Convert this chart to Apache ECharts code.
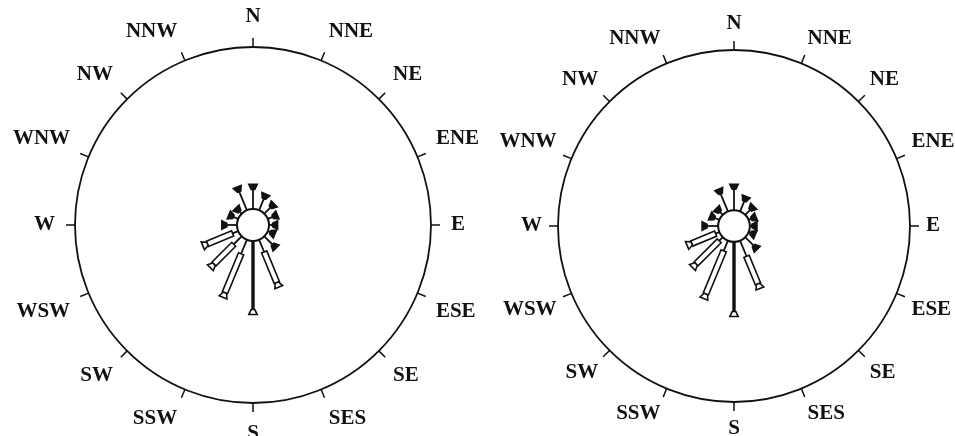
<!DOCTYPE html>
<html>
<head>
<meta charset="utf-8">
<title>wind rose</title>
<script src="https://cdn.jsdelivr.net/npm/echarts@6/dist/echarts.min.js"></script>
<style>
	html, body { margin: 0; padding: 0; background: #fff; }
	#main { width: 955px; height: 436px; }
</style>
</head>
<body>
<div id="main"></div>
<script>
	// 16 directions, clockwise from north (label "SES" kept as printed)
	var dirs = ['N','NNE','NE','ENE','E','ESE','SE','SES','S','SSW','SW','WSW','W','WNW','NW','NNW'];

	// calm circle radius (same axis units as the spokes)
	var calm = 9;

	// left rose: thin line / solid line / hollow bar lengths per direction
	var thinL   = [11, 7, 5, 3, 2, 1.5, 6.5, 7.4, 0, 8.5, 6.3, 3.4, 5.7, 2.9, 1.7, 11.3];
	var solidL  = [0, 0, 0, 0, 0, 0, 0, 0, 38.5, 0, 0, 0, 0, 0, 0, 0];
	var hollowL = [0, 0, 0, 0, 0, 0, 0, 18.6, 0, 23.7, 15.8, 15.3, 0, 0, 0, 0];

	// right rose
	var thinR   = [11.9, 6.3, 4, 1.7, 1.2, 1.2, 6.8, 9.6, 0, 6.3, 2.9, 2.3, 6.3, 2.9, 2.3, 10.8];
	var solidR  = [0, 0, 0, 0, 0, 0, 0, 0, 39.6, 0, 0, 0, 0, 0, 0, 0];
	var hollowR = [0, 0, 0, 0, 0, 0, 0, 17, 0, 26.5, 18.6, 14.7, 0, 0, 0, 0];

	var radiusMax = 100;
	var ink = '#111';

	function buildData(thin, solid, hollow) {
		var data = [];
		for (var i = 0; i < dirs.length; i++) {
			data.push([calm + thin[i] + solid[i] + hollow[i], i, thin[i], solid[i], hollow[i]]);
		}
		return data;
	}

	function renderSpoke(params, api) {
		var idx = api.value(1);
		var thin = api.value(2), solid = api.value(3), hollow = api.value(4);
		var c = api.coord([0, idx]);
		var pt = function (r) { return api.coord([r, idx]); };
		var p0 = pt(calm);
		var rr = Math.sqrt((p0[0] - c[0]) * (p0[0] - c[0]) + (p0[1] - c[1]) * (p0[1] - c[1]));
		var d = [(p0[0] - c[0]) / rr, (p0[1] - c[1]) / rr];
		var n = [-d[1], d[0]];
		var off = function (p, s, t) { return [p[0] + n[0] * s + d[0] * t, p[1] + n[1] * s + d[1] * t]; };
		var children = [];
		var r = calm;

		if (thin > 0) {
			children.push({ type: 'line', shape: { x1: pt(r)[0], y1: pt(r)[1], x2: pt(r + thin)[0], y2: pt(r + thin)[1] },
				style: { stroke: ink, lineWidth: 1.8 } });
			r += thin;
		}
		if (solid > 0) {
			children.push({ type: 'line', shape: { x1: pt(r)[0], y1: pt(r)[1], x2: pt(r + solid)[0], y2: pt(r + solid)[1] },
				style: { stroke: ink, lineWidth: 3.4 } });
			r += solid;
		}
		if (hollow > 0) {
			var a = pt(r), b = pt(r + hollow);
			children.push({ type: 'polygon', shape: { points: [off(a, -2.8, 0), off(b, -2.8, 0), off(b, 2.8, 0), off(a, 2.8, 0)] },
				style: { fill: '#fff', stroke: ink, lineWidth: 1.6 } });
			r += hollow;
		}
		// end cap
		var e = pt(r);
		var big = hollow > 0 || solid > 0;
		children.push({ type: 'polygon',
			shape: { points: [off(e, -1.8, 0), off(e, 1.8, 0), off(e, 4.2, 5), off(e, -4.2, 5)] },
			style: { fill: big ? '#fff' : ink, stroke: ink, lineWidth: 1.6 } });

		// calm circle, once
		if (params.dataIndex === 0) {
			children.push({ type: 'circle', shape: { cx: c[0], cy: c[1], r: rr },
				style: { fill: '#fff', stroke: ink, lineWidth: 2 } });
		}
		return { type: 'group', children: children };
	}

	function angleAxisOf(i, margin) {
		return {
			polarIndex: i,
			type: 'category',
			data: dirs,
			// bands of 22.5 deg, N band centred on top
			startAngle: 90 + 11.25,
			clockwise: true,
			boundaryGap: true,
			axisLine: { show: true, lineStyle: { color: ink, width: 1.8 } },
			axisTick: { show: true, inside: false, alignWithLabel: true, length: 9, lineStyle: { color: ink, width: 1.5 } },
			axisLabel: { show: true, margin: margin, color: ink, fontFamily: 'Liberation Serif', fontSize: 21, fontWeight: 'bold', interval: 0 },
			splitLine: { show: false },
			splitArea: { show: false }
		};
	}

	function radiusAxisOf(i) {
		return {
			polarIndex: i,
			type: 'value',
			min: 0,
			max: radiusMax,
			show: false,
			axisLine: { show: false },
			axisTick: { show: false },
			axisLabel: { show: false },
			splitLine: { show: false }
		};
	}

	var myChart = echarts.init(document.getElementById('main'));
	var option = {
		backgroundColor: '#fff',
		animation: false,
		polar: [
			{ center: [253, 225], radius: 178 },
			{ center: [734, 226], radius: 176 }
		],
		angleAxis: [angleAxisOf(0, 20), angleAxisOf(1, 16)],
		radiusAxis: [radiusAxisOf(0), radiusAxisOf(1)],
		series: [
			{ type: 'custom', coordinateSystem: 'polar', polarIndex: 0, renderItem: renderSpoke,
				data: buildData(thinL, solidL, hollowL) },
			{ type: 'custom', coordinateSystem: 'polar', polarIndex: 1, renderItem: renderSpoke,
				data: buildData(thinR, solidR, hollowR) }
		]
	};
	myChart.setOption(option, true);
	window.addEventListener('resize', function () { myChart.resize(); });
</script>
</body>
</html>
